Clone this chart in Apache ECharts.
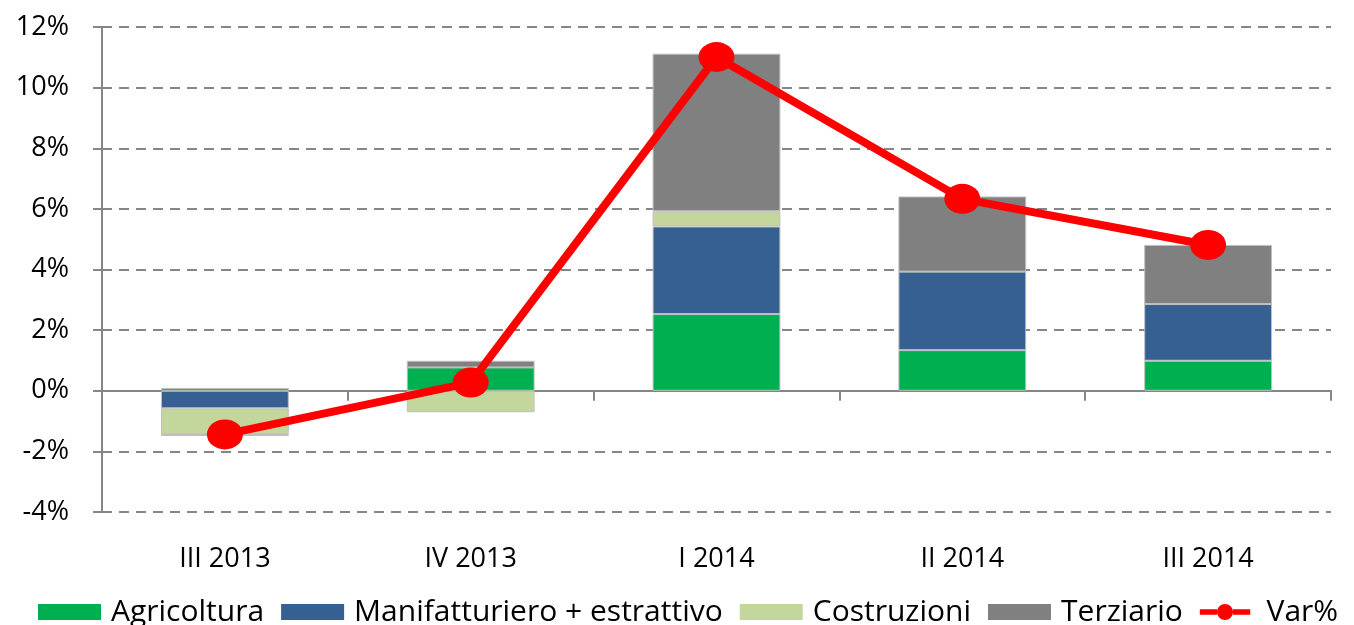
<!DOCTYPE html>
<html>
<head>
<meta charset="utf-8">
<script src="https://cdn.jsdelivr.net/npm/echarts@6/dist/echarts.min.js"></script>
<style>
html,body{margin:0;padding:0;background:#fff;}
#chart{width:1354px;height:625px;}
</style>
</head>
<body>
<div id="chart"></div>
<script>
const categories = ['III 2013', 'IV 2013', 'I 2014', 'II 2014', 'III 2014'];
const agricoltura = [0.09, 0.77, 2.53, 1.34, 0.99];
const manifatturiero = [-0.58, 0, 2.89, 2.59, 1.87];
const costruzioni = [-0.85, -0.71, 0.50, 0, 0];
const terziario = [-0.06, 0.22, 5.20, 2.48, 1.95];
const varPct = [-1.44, 0.27, 11.01, 6.33, 4.81];

const FONT = '"Open Sans", sans-serif';
const AXIS_GRAY = '#868686';

const chart = echarts.init(document.getElementById('chart'), null, {renderer: 'canvas'});

function barSeries(name, data, color) {
  return {
    name: name,
    type: 'bar',
    stack: 'tot',
    stackStrategy: 'samesign',
    xAxisIndex: 0,
    barWidth: '52%',
    data: data,
    itemStyle: {color: color, borderColor: '#BFBFBF', borderWidth: 1},
    emphasis: {disabled: true}
  };
}

chart.setOption({
  animation: false,
  backgroundColor: '#ffffff',
  textStyle: {fontFamily: FONT},
  grid: {left: 102, right: 23, top: 27, bottom: 113, containLabel: false},
  legend: {
    left: 33,
    top: 591,
    itemWidth: 63,
    itemHeight: 16,
    itemGap: 17,
    itemStyle: {borderWidth: 0},
    textStyle: {fontFamily: FONT, fontSize: 30, color: '#000', lineHeight: 32, padding: [0, 0, 0, 5]},
    data: [
      {name: 'Agricoltura', icon: 'rect'},
      {name: 'Manifatturiero + estrattivo', icon: 'rect'},
      {name: 'Costruzioni', icon: 'rect'},
      {name: 'Terziario', icon: 'rect'},
      {name: 'Var%', icon: 'path://M0,6.5h21.5v7h-21.5z M41.5,6.5h21.5v7h-21.5z M21.5,10a10,10 0 1,0 20,0a10,10 0 1,0 -20,0z', itemStyle: {color: '#FF0000', borderWidth: 0}}
    ]
  },
  xAxis: [
    {
      type: 'category',
      data: categories,
      position: 'bottom',
      axisLine: {show: false, onZero: false},
      axisTick: {show: false},
      axisLabel: {fontFamily: FONT, fontSize: 27, color: '#000', margin: 34},
      splitLine: {show: false}
    },
    {
      type: 'category',
      data: categories,
      position: 'bottom',
      axisLine: {show: true, onZero: true, lineStyle: {color: AXIS_GRAY, width: 2}},
      axisTick: {show: true, inside: false, length: 10, lineStyle: {color: AXIS_GRAY, width: 2}},
      axisLabel: {show: false},
      splitLine: {show: false}
    }
  ],
  yAxis: {
    type: 'value',
    min: -4,
    max: 12,
    interval: 2,
    axisLine: {show: true, lineStyle: {color: AXIS_GRAY, width: 2}},
    axisTick: {show: true, inside: false, length: 9, lineStyle: {color: AXIS_GRAY, width: 2}},
    axisLabel: {fontFamily: FONT, fontSize: 27, color: '#000', margin: 33, formatter: '{value}%'},
    splitLine: {show: true, lineStyle: {color: AXIS_GRAY, width: 2, type: [10, 7]}}
  },
  series: [
    barSeries('Agricoltura', agricoltura, '#00B050'),
    barSeries('Manifatturiero + estrattivo', manifatturiero, '#376092'),
    barSeries('Costruzioni', costruzioni, '#C3D69B'),
    barSeries('Terziario', terziario, '#808080'),
    {
      name: 'Var%',
      type: 'line',
      xAxisIndex: 0,
      data: varPct,
      symbol: 'circle',
      symbolSize: [36, 30],
      lineStyle: {color: '#FF0000', width: 8},
      itemStyle: {color: '#FF0000', borderWidth: 0},
      emphasis: {disabled: true},
      z: 5
    }
  ]
});
</script>
</body>
</html>
